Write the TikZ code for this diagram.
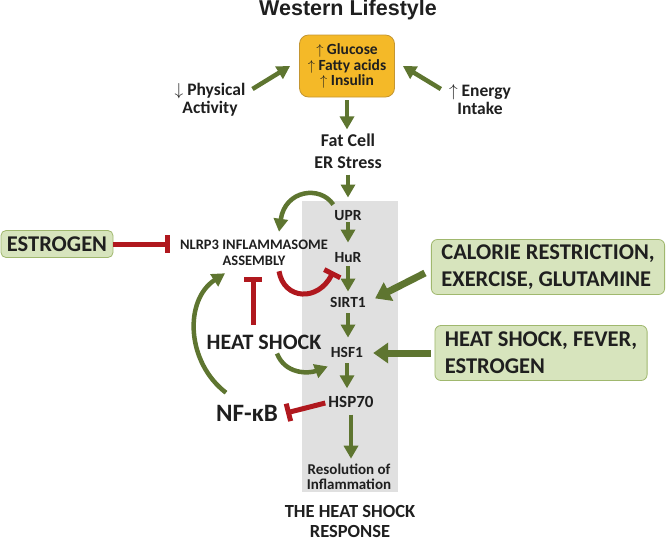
\documentclass[tikz,border=0pt]{standalone}
\usepackage{fontspec}
\setmainfont{Carlito}
\newfontfamily\headfont{Liberation Sans}
\usetikzlibrary{arrows.meta}
\definecolor{hsgreen}{RGB}{94,117,48}
\definecolor{hsred}{RGB}{176,24,30}
\definecolor{hsyellow}{RGB}{244,185,40}
\definecolor{hsyellowedge}{RGB}{196,150,50}
\definecolor{cuefill}{RGB}{215,228,189}
\definecolor{cueedge}{RGB}{160,184,110}
\definecolor{hsgray}{RGB}{224,224,224}
\newcommand{\bsize}[2]{\fontsize{#1}{#2}\selectfont\bfseries}
\tikzset{
  txt/.style={align=center, inner sep=2pt, text=black!88},
  cell/.style={txt, font=\bsize{15.5}{17}, text height=10.5pt, text depth=0pt},
  cue/.style={rectangle, draw=cueedge, fill=cuefill, rounded corners=6pt, line width=0.8pt, align=left, inner xsep=10pt, inner ysep=3pt, minimum height=55pt, text=black!88, font=\bsize{22.5}{27}},
  garr/.style={-{Triangle[length=13pt,width=14pt]}, line width=4.5pt, hsgreen},
  bigarr/.style={-{Triangle[length=15pt,width=20pt]}, line width=7pt, hsgreen},
  block/.style={-{Bar[width=18pt]}, line width=5pt, hsred}
}

\begin{document}
\begin{tikzpicture}[x=1pt, y=-1pt]
\useasboundingbox (0,0) rectangle (666,542);
\node[fill=hsgray, minimum width=96pt, minimum height=291pt, inner sep=0pt] (panel) at (350,346.5) {};

\node[txt, font={\headfont\bsize{21.5}{24}}] (title) at (348,10) {Western Lifestyle};
\node[rectangle, draw=hsyellowedge, fill=hsyellow, rounded corners=9pt, line width=0.8pt, minimum width=95pt, minimum height=62pt, txt, font=\bsize{15.5}{15.5}] (sugar) at (347,66) {$\uparrow$ Glucose\\$\uparrow$ Fatty acids\\$\uparrow$ Insulin};
\node[txt, font=\bsize{17.5}{18}] (phys) at (210,100) {$\downarrow$ Physical\\Activity};
\node[txt, font=\bsize{17.5}{18}] (enr) at (480,100) {$\uparrow$ Energy\\Intake};
\node[txt, font=\bsize{18}{22}] (fat) at (348,151) {Fat Cell\\ER Stress};

\node[cell] (upr) at (348,215) {UPR};
\node[cell] (hur) at (348,257) {HuR};
\node[cell] (sirt) at (348,302) {SIRT1};
\node[cell] (hsf) at (347,352) {HSF1};
\node[cell, font=\bsize{17}{18}, text height=11pt] (hsp) at (351,402) {HSP70};
\node[txt, font=\bsize{15}{15.5}] (res) at (349,477) {Resolution of\\Inflammation};
\node[txt, font=\bsize{18.5}{20}] (resp) at (350,521) {THE HEAT SHOCK\\RESPONSE};

\node[txt, font=\bsize{14.5}{16.5}] (nlrp) at (254,253) {NLRP3 INFLAMMASOME\\ASSEMBLY};
\node[rectangle, draw=cueedge, fill=cuefill, rounded corners=5pt, line width=0.8pt, minimum width=112pt, minimum height=27pt, inner sep=0pt, text=black!88, font=\bsize{22.5}{24}] (estr) at (57,244) {ESTROGEN};
\node[txt, font=\bsize{22}{24}] (heat) at (264,342) {HEAT SHOCK};
\node[txt, font=\bsize{25}{27}] (nfkb) at (247,413) {NF-κB};
\node[cue] (cal) at (548,267) {CALORIE RESTRICTION,\\EXERCISE, GLUTAMINE};
\node[cue] (fev) at (541,353) {HEAT SHOCK, FEVER,\\ESTROGEN};

\draw[garr] ([shift={(5,-11)}]phys.east) -- ([xshift=-9pt]sugar.west);
\draw[garr] ([shift={(-6,-11)}]enr.west) -- ([xshift=8pt]sugar.east);
\draw[garr, shorten <=3pt, shorten >=2pt] (sugar.south) -- (sugar.south |- fat.north);
\draw[garr, shorten <=4pt, shorten >=10pt] (fat.south) -- (upr.north);
\draw[garr, shorten >=7pt] (upr) -- (hur);
\draw[garr, shorten <=2pt, shorten >=3pt] (hur) -- (sirt);
\draw[garr, shorten <=4pt, shorten >=7pt] (sirt.south) -- (sirt.south |- hsf.north);
\draw[garr, shorten <=4pt, shorten >=6pt] (hsf.south) -- (hsf.south |- hsp.north);
\draw[garr, shorten <=5pt, shorten >=3pt] (hsp.south) -- (hsp.south |- res.north);

\draw[garr] ([shift={(1,-3)}]upr.north west) .. controls (320,185) and (285,190) .. ([shift={(25,-6)}]nlrp.north);
\draw[block] ([shift={(25,3)}]nlrp.south) .. controls (284,300) and (318,302) .. ([shift={(1,7)}]hur.south west);
\draw[block] (estr.east) -- ([xshift=-8pt]nlrp.west |- estr.east);
\draw[block, shorten <=8pt, shorten >=9pt] ([xshift=-11pt]heat.north) -- ([xshift=-11pt]heat.north |- nlrp.south);
\draw[garr] ([shift={(13,2)}]heat.south) .. controls (285,374) and (308,374) .. ([shift={(-1,7)}]hsf.south west);
\draw[garr] ([shift={(12,-10)}]nfkb.north west) .. controls (186,362) and (184,300) .. ([shift={(-29,5)}]nlrp.south);
\draw[block] ([shift={(-1,1)}]hsp.west) -- ([xshift=6pt]nfkb.east);

\draw[bigarr, shorten >=8pt] ([shift={(-6,6)}]cal.west) -- (sirt.east);
\draw[bigarr, shorten >=8pt] ([xshift=-4pt]fev.west) -- (fev.west -| hsf.east);
\end{tikzpicture}
\end{document}
